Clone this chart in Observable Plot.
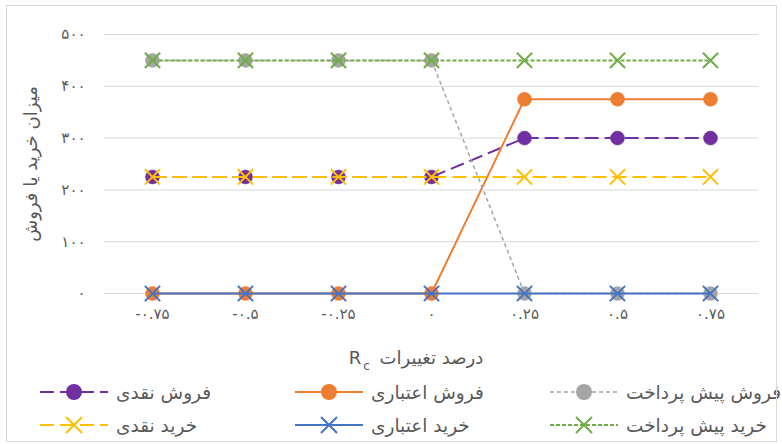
<!DOCTYPE html>
<html>
<head>
<meta charset="utf-8">
<script src="https://cdn.jsdelivr.net/npm/d3@7"></script>
<script src="https://cdn.jsdelivr.net/npm/@observablehq/plot@0.6"></script>
<style>
  body { margin: 0; background: white; }
  #wrap { position: relative; width: 782px; height: 444px; font-family: "DejaVu Sans", sans-serif; color: #595959; overflow: hidden; }
  #chart { position: absolute; left: 0; top: 0; }
  #chart g[aria-label="x-axis tick label"] text { letter-spacing: 3px; }
  #chart g[aria-label="y-axis tick label"] text { letter-spacing: 3px; }
  #frame { position: absolute; left: 6px; top: 5px; width: 769px; height: 435px; border: 1px solid #d9d9d9; pointer-events: none; }
  #xtitle { position: absolute; left: 316px; width: 200px; top: 346px; text-align: center; font-size: 18px; line-height: 24px; }
  #xtitle .sub { font-size: 12px; position: relative; top: 6px; margin-left: 2px; margin-right: 4px; }
  .leg { position: absolute; display: flex; align-items: center; height: 24px; font-size: 18.5px; white-space: nowrap; }
  .leg svg { display: block; margin-right: 8px; }
</style>
</head>
<body>
<div id="wrap">
  <div id="chart"></div>
  <div id="xtitle" dir="rtl">درصد تغییرات R<span class="sub">c</span></div>
  <div id="legend"></div>
  <div id="frame"></div>
</div>
<script>
// ---- data ----
const rc = [-0.75, -0.5, -0.25, 0, 0.25, 0.5, 0.75];
const yTicks = [0, 100, 200, 300, 400, 500];
const cashSale   = [225, 225, 225, 225, 300, 300, 300]; // فروش نقدی
const creditSale = [0, 0, 0, 0, 375, 375, 375];         // فروش اعتباری
const prepaySale = [450, 450, 450, 450, 0, 0, 0];       // فروش پیش پرداخت
const cashBuy    = [225, 225, 225, 225, 225, 225, 225]; // خرید نقدی
const creditBuy  = [0, 0, 0, 0, 0, 0, 0];               // خرید اعتباری
const prepayBuy  = [450, 450, 450, 450, 450, 450, 450]; // خرید پیش پرداخت
const seriesNames = ["فروش نقدی", "فروش اعتباری", "فروش پیش پرداخت", "خرید نقدی", "خرید اعتباری", "خرید پیش پرداخت"];
const yTitle = "میزان خرید یا فروش";

// ---- styles ----
const seriesValues = [cashSale, creditSale, prepaySale, cashBuy, creditBuy, prepayBuy];
const styles = [
  {color: "#7030A0", dash: "14,6", width: 2, symbol: "circle"},
  {color: "#ED7D31", dash: null,   width: 2, symbol: "circle"},
  {color: "#A5A5A5", dash: "4,3",  width: 1.5, symbol: "circle"},
  {color: "#FFC000", dash: "14,6", width: 2, symbol: "times"},
  {color: "#4472C4", dash: null,   width: 2, symbol: "times"},
  {color: "#70AD47", dash: "4,2",  width: 2, symbol: "times"}
];

const faDigits = "۰۱۲۳۴۵۶۷۸۹";
const fa = d => String(d).replace(/[0-9]/g, c => faDigits[+c]);

const marks = [
  Plot.ruleY(yTicks, {stroke: "#d9d9d9", strokeWidth: 1}),
  Plot.axisY({ticks: yTicks, tickSize: 0, tickPadding: 19, tickFormat: fa, label: null, fontSize: 15}),
  Plot.axisX({tickSize: 0, tickPadding: 15, tickFormat: fa, label: null, fontSize: 15}),
  Plot.text([yTitle], {frameAnchor: "left", textAnchor: "middle", rotate: -90, dx: -73, fontSize: 18, fill: "#595959"})
];
seriesValues.forEach((vals, i) => {
  const s = styles[i];
  const data = rc.map((x, j) => ({x, y: vals[j]}));
  marks.push(Plot.line(data, {x: "x", y: "y", stroke: s.color, strokeWidth: s.width, strokeDasharray: s.dash || undefined, strokeLinecap: "butt"}));
  if (s.symbol === "circle") {
    marks.push(Plot.dot(data, {x: "x", y: "y", r: 7, fill: s.color, stroke: s.color, strokeWidth: 0.5}));
  } else {
    marks.push(Plot.dot(data, {x: "x", y: "y", r: 7, symbol: "times", stroke: s.color, strokeWidth: 2}));
  }
});

const chart = Plot.plot({
  width: 782,
  height: 330,
  marginLeft: 104,
  marginRight: 24,
  marginTop: 34,
  marginBottom: 37,
  style: {background: "transparent", fontFamily: "DejaVu Sans", color: "#595959", fontSize: "15px"},
  x: {type: "point", domain: rc, padding: 0.5},
  y: {domain: [0, 500]},
  marks
});
document.getElementById("chart").appendChild(chart);

// ---- legend ----
const legend = document.getElementById("legend");
const colLeft = [40, 295, 550];
const rowTop = [380, 413];
seriesNames.forEach((name, i) => {
  const s = styles[i];
  const item = document.createElement("div");
  item.className = "leg";
  item.style.left = colLeft[i % 3] + "px";
  item.style.top = rowTop[Math.floor(i / 3)] + "px";
  const ns = "http://www.w3.org/2000/svg";
  const svg = document.createElementNS(ns, "svg");
  svg.setAttribute("width", 68); svg.setAttribute("height", 20);
  const line = document.createElementNS(ns, "line");
  line.setAttribute("x1", 0); line.setAttribute("x2", 68);
  line.setAttribute("y1", 10); line.setAttribute("y2", 10);
  line.setAttribute("stroke", s.color); line.setAttribute("stroke-width", s.width);
  if (s.dash) line.setAttribute("stroke-dasharray", s.dash);
  svg.appendChild(line);
  if (s.symbol === "circle") {
    const c = document.createElementNS(ns, "circle");
    c.setAttribute("cx", 34); c.setAttribute("cy", 10); c.setAttribute("r", 8);
    c.setAttribute("fill", s.color);
    svg.appendChild(c);
  } else {
    const p = document.createElementNS(ns, "path");
    p.setAttribute("d", "M26,2L42,18M42,2L26,18");
    p.setAttribute("stroke", s.color); p.setAttribute("stroke-width", 2);
    svg.appendChild(p);
  }
  item.appendChild(svg);
  const span = document.createElement("span");
  span.dir = "rtl";
  span.textContent = name;
  item.appendChild(span);
  legend.appendChild(item);
});
</script>
</body>
</html>
